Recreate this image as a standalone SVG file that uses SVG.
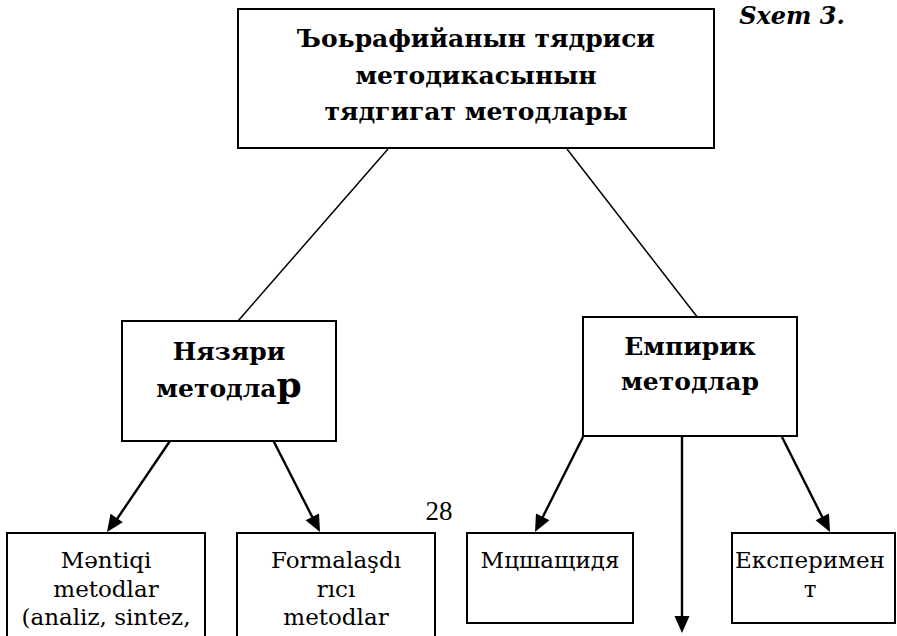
<svg xmlns="http://www.w3.org/2000/svg" width="897" height="636" viewBox="0 0 897 636">
<style>
.box{fill:#fff;stroke:#000;stroke-width:2}
.ln{stroke:#000;stroke-width:1.5;fill:none}
.cn{stroke:#000;stroke-width:2.4;fill:none}
.hb{font-family:"DejaVu Serif",serif;font-weight:bold;font-size:25px;text-anchor:middle;fill:#000}
.tx{font-family:"DejaVu Serif",serif;font-size:23px;text-anchor:middle;fill:#000}
</style>
<rect width="897" height="636" fill="#fff"/>
<text x="792" y="24" style="font-family:'DejaVu Serif',serif;font-weight:bold;font-style:italic;font-size:24px;text-anchor:middle">Sxem 3.</text>
<g id="connectors">
<line class="ln" x1="388" y1="149" x2="238" y2="321"/>
<line class="ln" x1="567" y1="149" x2="698" y2="318"/>
<path class="cn" d="M172,438 L117,519"/>
<path class="cn" d="M272,438 L312.5,517.5"/>
<path class="cn" d="M583,437 L542.5,517.5"/>
<path class="cn" d="M682,437 L682,617"/>
<path class="cn" d="M782,437 L822.5,517.5"/>
<polygon points="107,532 122.8,522.3 110.5,513.8"/>
<polygon points="320,532 319,513.5 305.6,520.3"/>
<polygon points="535,532 549.4,520.2 536,513.4"/>
<polygon points="682,633 674.5,616 689.5,616"/>
<polygon points="830,532 829,513.4 815.6,520.2"/>
</g>
<g id="top">
<rect class="box" x="238" y="9" width="476" height="139"/>
<text class="hb" x="476" y="47">Ъоьрафийанын тядриси</text>
<text class="hb" x="476" y="84">методикасынын</text>
<text class="hb" x="476" y="120">тядгигат методлары</text>
</g>
<g id="nazari">
<rect class="box" x="122" y="321" width="214" height="120"/>
<text class="hb" x="229" y="360">Нязяри</text>
<text class="hb" x="229" y="397">методла<tspan style="font-size:36px">р</tspan></text>
</g>
<g id="empirik">
<rect class="box" x="583" y="317" width="214" height="119"/>
<text class="hb" x="690" y="355">Емпирик</text>
<text class="hb" x="690" y="390">методлар</text>
</g>
<g id="mentiqi">
<rect class="box" x="7" y="533" width="198" height="110"/>
<text class="tx" x="106" y="568">Məntiqi</text>
<text class="tx" x="106" y="597">metodlar</text>
<text class="tx" x="106" y="625">(analiz, sintez,</text>
</g>
<g id="formal">
<rect class="box" x="237" y="533" width="198" height="110"/>
<text class="tx" x="336" y="568">Formalaşdı</text>
<text class="tx" x="336" y="597">rıcı</text>
<text class="tx" x="336" y="625">metodlar</text>
</g>
<text x="439" y="520" style="font-family:'Liberation Serif',serif;font-size:27px;text-anchor:middle">28</text>
<g id="mushahida">
<rect class="box" x="467" y="533" width="166" height="90"/>
<text class="tx" x="550" y="568">Мцшащидя</text>
</g>
<g id="eksperiment">
<rect class="box" x="732" y="533" width="163" height="90"/>
<text class="tx" x="810" y="568">Експеримен</text>
<text class="tx" x="810" y="597">т</text>
</g>
</svg>
